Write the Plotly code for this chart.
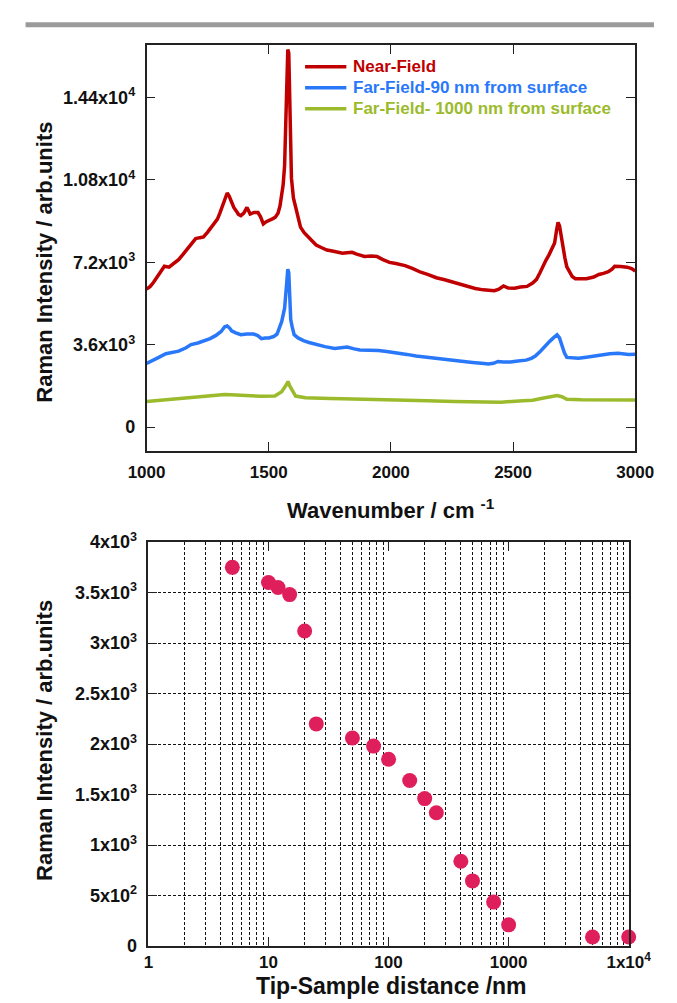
import plotly.graph_objects as go

# ---- Raman spectra (wavenumber in cm^-1, intensity in arb. units) ----
near_wn = [1000, 1015, 1028, 1045, 1060, 1073, 1092, 1110, 1131, 1150, 1169, 1185, 1201, 1218, 1233,
           1250, 1265, 1280, 1290, 1300, 1312, 1322, 1330, 1338, 1348, 1357, 1367, 1376, 1386, 1398,
           1411, 1418, 1424, 1440, 1456, 1466, 1478, 1490, 1501, 1515, 1527, 1538, 1546, 1553, 1559,
           1565, 1569, 1573, 1578, 1582, 1585, 1588, 1593, 1601, 1610, 1618, 1630, 1645, 1661, 1680,
           1694, 1715, 1738, 1760, 1780, 1802, 1820, 1841, 1860, 1892, 1920, 1943, 1965, 1994, 2020,
           2058, 2090, 2122, 2150, 2186, 2220, 2250, 2280, 2314, 2345, 2378, 2400, 2423, 2440, 2461,
           2480, 2506, 2530, 2557, 2580, 2596, 2610, 2621, 2635, 2647, 2660, 2670, 2678, 2684, 2690,
           2697, 2705, 2712, 2720, 2729, 2742, 2755, 2780, 2800, 2830, 2851, 2870, 2890, 2905, 2916,
           2940, 2967, 2985, 3000]
near_int = [6030, 6150, 6320, 6600, 6850, 7030, 6990, 7150, 7320, 7560, 7810, 8000, 8240, 8280, 8310,
            8520, 8740, 8950, 9090, 9350, 9730, 10050, 10230, 10100, 9800, 9600, 9450, 9300, 9240, 9350,
            9600, 9400, 9310, 9380, 9380, 9200, 8880, 8980, 9050, 9100, 9170, 9350, 9660, 10100, 10590,
            11440, 12870, 15400, 16500, 16350, 15000, 12580, 10880, 10020, 9600, 9300, 8740, 8500, 8310, 8100,
            7960, 7850, 7740, 7700, 7640, 7600, 7620, 7640, 7560, 7460, 7480, 7460, 7330, 7200, 7150,
            7060, 6930, 6770, 6680, 6530, 6440, 6340, 6250, 6150, 6060, 6000, 5980, 5960, 6020, 6170,
            6080, 6070, 6120, 6150, 6300, 6460, 6750, 7030, 7300, 7530, 7800, 8050, 8600, 8950, 8800,
            8300, 7800, 7400, 7000, 6810, 6580, 6490, 6490, 6490, 6560, 6670, 6720, 6790, 6900, 7030,
            7020, 6990, 6930, 6820]

far90_wn = [1000, 1015, 1028, 1050, 1079, 1100, 1131, 1160, 1182, 1210, 1233, 1260, 1284, 1305, 1320,
            1330, 1340, 1348, 1365, 1386, 1410, 1438, 1455, 1470, 1485, 1501, 1520, 1534, 1553, 1565,
            1572, 1578, 1582, 1586, 1590, 1596, 1604, 1620, 1642, 1665, 1694, 1730, 1770, 1800, 1821,
            1850, 1873, 1910, 1950, 1990, 2026, 2065, 2103, 2140, 2180, 2220, 2257, 2300, 2334, 2370,
            2399, 2420, 2438, 2460, 2489, 2520, 2553, 2575, 2591, 2612, 2630, 2650, 2665, 2680, 2690,
            2700, 2710, 2720, 2740, 2768, 2800, 2832, 2860, 2896, 2930, 2973, 3000]
far90_int = [2790, 2860, 2930, 3050, 3210, 3260, 3320, 3460, 3610, 3680, 3750, 3870, 4010, 4180, 4390,
             4420, 4330, 4210, 4120, 4040, 4070, 4070, 4000, 3870, 3900, 3900, 3960, 4070, 4610, 5200,
             6100, 6900, 6750, 5600, 4700, 4380, 4040, 3900, 3780, 3700, 3610, 3520, 3440, 3480, 3500,
             3420, 3370, 3360, 3350, 3300, 3260, 3180, 3110, 3060, 3010, 2980, 2930, 2880, 2830, 2790,
             2760, 2790, 2870, 2850, 2850, 2890, 2930, 3010, 3110, 3320, 3540, 3750, 3900, 4040, 3900,
             3540, 3250, 3050, 3020, 3010, 3060, 3110, 3170, 3210, 3230, 3180, 3190]

far1000_wn = [1000, 1030, 1060, 1105, 1150, 1190, 1233, 1280, 1320, 1345, 1380, 1422, 1470, 1525, 1553,
              1572, 1579, 1586, 1600, 1610, 1650, 1694, 1750, 1800, 1873, 1950, 2065, 2150, 2257, 2320,
              2385, 2450, 2540, 2580, 2620, 2660, 2680, 2700, 2720, 2780, 2832, 2900, 2960, 3000]
far1000_int = [1120, 1150, 1180, 1230, 1280, 1320, 1360, 1400, 1430, 1420, 1390, 1360, 1350, 1360, 1550,
               1850, 2000, 1800, 1500, 1360, 1290, 1260, 1250, 1240, 1230, 1210, 1190, 1160, 1120, 1100,
               1080, 1090, 1160, 1180, 1260, 1340, 1380, 1330, 1220, 1200, 1190, 1200, 1190, 1190]

series_names = ["Near-Field", "Far-Field-90 nm from surface", "Far-Field- 1000 nm from surface"]

spec_yticks = [0, 3600, 7200, 10800, 14400]
spec_yticktext = ["0", "3.6x10<sup>3</sup>", "7.2x10<sup>3</sup>",
                  "1.08x10<sup>4</sup>", "1.44x10<sup>4</sup>"]
spec_xticks = [1000, 1500, 2000, 2500, 3000]

# ---- G-band intensity versus tip-sample distance ----
distance_nm = [5, 10, 12, 15, 20, 25, 50, 75, 100, 150, 200, 250, 400, 500, 750, 1000, 5000, 10000]
g_intensity = [3750, 3600, 3550, 3480, 3120, 2200, 2060, 1980, 1850, 1640, 1460, 1320, 840, 645,
               435, 210, 90, 90]

dist_yticks = [0, 500, 1000, 1500, 2000, 2500, 3000, 3500, 4000]
dist_yticktext = ["0", "5x10<sup>2</sup>", "1x10<sup>3</sup>", "1.5x10<sup>3</sup>", "2x10<sup>3</sup>",
                  "2.5x10<sup>3</sup>", "3x10<sup>3</sup>", "3.5x10<sup>3</sup>", "4x10<sup>3</sup>"]
dist_xticks = [1, 10, 100, 1000, 10000]
dist_xticktext = ["1", "10", "100", "1000", "1x10<sup>4</sup>"]
dist_minor = [m * 10 ** d for d in range(4) for m in range(2, 10)]

RED = "#C00000"
BLUE = "#2A78FA"
GREEN = "#9BBB2C"
PINK = "#DF1F5C"
COLORS = [RED, BLUE, GREEN]
FONT = "Arial, Liberation Sans, sans-serif"

W, H = 677, 1003


def px_x(p):
    return p / W


def px_y(p):
    return 1 - p / H


fig = go.Figure()

for wn, val, name, col in zip([near_wn, far90_wn, far1000_wn],
                              [near_int, far90_int, far1000_int],
                              series_names, COLORS):
    fig.add_trace(go.Scatter(
        x=wn, y=val, mode="lines", name=name,
        line=dict(color=col, width=3.5),
        xaxis="x", yaxis="y", showlegend=False,
    ))

fig.add_trace(go.Scatter(
    x=distance_nm, y=g_intensity, mode="markers",
    marker=dict(color=PINK, size=15, line=dict(width=0)),
    xaxis="x2", yaxis="y2", showlegend=False, cliponaxis=False,
))

xtick_font = dict(family=FONT, size=17, color="#111", weight="bold")
ytick_font = dict(family=FONT, size=18, color="#111", weight="bold")
frame = dict(showline=True, linecolor="#222", linewidth=1.6, mirror="ticks",
             ticks="inside", ticklen=9, tickwidth=1.4, tickcolor="#222", zeroline=False)

fig.update_layout(
    width=W, height=H,
    margin=dict(l=0, r=0, t=0, b=0),
    paper_bgcolor="white", plot_bgcolor="white",
    font=dict(family=FONT),
    showlegend=False,
    xaxis=dict(domain=[px_x(136), px_x(657)], anchor="y", range=[1000, 3000],
               tickvals=spec_xticks, showgrid=False, ticklabelstandoff=5,
               tickfont=xtick_font, **frame),
    yaxis=dict(domain=[px_y(449), px_y(34)], anchor="x", range=[-1047, 16686],
               tickvals=spec_yticks, ticktext=spec_yticktext, showgrid=False,
               ticklabelstandoff=6, tickfont=ytick_font, **frame),
    xaxis2=dict(domain=[px_x(138), px_x(650)], anchor="y2", type="log", range=[0, 4],
                tickvals=dist_xticks, ticktext=dist_xticktext, showgrid=False,
                ticklabelstandoff=0, tickfont=xtick_font,
                minor=dict(tickvals=dist_minor, showgrid=True, gridcolor="#111",
                           gridwidth=1, griddash="3px,2px", ticks=""),
                **frame),
    yaxis2=dict(domain=[px_y(955), px_y(542)], anchor="x2", range=[0, 4000],
                tickvals=dist_yticks, ticktext=dist_yticktext, showgrid=True,
                gridcolor="#111", gridwidth=1, griddash="3px,2px",
                ticklabelstandoff=6, tickfont=ytick_font, **frame),
)

# separator rule across the top of the page
fig.add_shape(type="line", xref="paper", yref="paper",
              x0=px_x(7), x1=1, y0=px_y(13), y1=px_y(13),
              line=dict(color="#9A9A9A", width=5))

# legend: coloured sample line followed by coloured bold label
legend_font = dict(family=FONT, size=17, weight="bold")
for i, (name, col) in enumerate(zip(series_names, COLORS)):
    ly = 56 + 21.5 * i
    fig.add_shape(type="line", xref="paper", yref="paper",
                  x0=px_x(305), x1=px_x(349), y0=px_y(ly), y1=px_y(ly),
                  line=dict(color=col, width=3.5))
    fig.add_annotation(text=name, font=dict(color=col, **legend_font),
                       xref="paper", yref="paper", x=px_x(355), y=px_y(ly),
                       xanchor="left", yanchor="middle", showarrow=False, borderpad=0)

title_font = dict(family=FONT, size=22, color="#111", weight="bold")
fig.add_annotation(text="Raman Intensity / arb.units", textangle=-90, font=title_font,
                   xref="paper", yref="paper", x=px_x(27), y=px_y(256),
                   showarrow=False, xanchor="center", yanchor="middle")
fig.add_annotation(text="Wavenumber / cm <sup>-1</sup>", font=title_font,
                   xref="paper", yref="paper", x=px_x(397), y=px_y(508),
                   showarrow=False, xanchor="center", yanchor="middle")
fig.add_annotation(text="Raman Intensity / arb.units", textangle=-90, font=title_font,
                   xref="paper", yref="paper", x=px_x(27), y=px_y(745),
                   showarrow=False, xanchor="center", yanchor="middle")
fig.add_annotation(text="Tip-Sample distance /nm", font=dict(title_font, size=23),
                   xref="paper", yref="paper", x=px_x(397), y=px_y(996),
                   showarrow=False, xanchor="center", yanchor="middle")

fig.write_html("out.html")
